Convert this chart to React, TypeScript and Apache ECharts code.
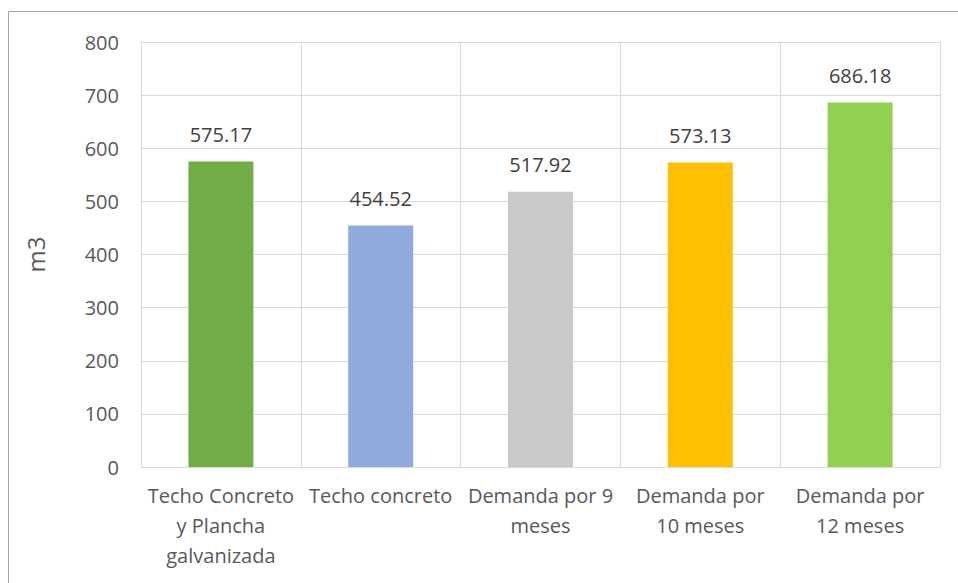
import React, { useEffect, useRef } from "react";
import * as echarts from "echarts";

const categories = [
  "Techo Concreto\ny Plancha\ngalvanizada",
  "Techo concreto",
  "Demanda por 9\nmeses",
  "Demanda por\n10 meses",
  "Demanda por\n12 meses",
];
const values = [575.17, 454.52, 517.92, 573.13, 686.18];
const barColors = ["#70AD47", "#8FAADC", "#C9C9C9", "#FFC000", "#92D050"];
const yTicks = { min: 0, max: 800, interval: 100 };

const FONT = "'Open Sans', 'Noto Sans', sans-serif";

export default function App() {
  const ref = useRef<HTMLDivElement>(null);
  useEffect(() => {
    if (!ref.current) return;
    const chart = echarts.init(ref.current, null, { renderer: "svg" });
    chart.setOption({
      animation: false,
      backgroundColor: "#ffffff",
      textStyle: { fontFamily: FONT },
      graphic: [
        {
          type: "rect",
          shape: { x: 8.5, y: 11.5, width: 970, height: 600 },
          style: { fill: "none", stroke: "#a6a6a6", lineWidth: 1 },
          silent: true,
          z: 0,
        },
      ],
      grid: { left: 141, right: 18, top: 42, bottom: 116, containLabel: false },
      xAxis: {
        type: "category",
        data: categories,
        axisLine: { show: true, lineStyle: { color: "#d9d9d9", width: 1 } },
        axisTick: { show: false },
        splitLine: { show: true, lineStyle: { color: "#d9d9d9", width: 1 } },
        axisLabel: {
          color: "#595959",
          fontSize: 20,
          fontFamily: FONT,
          lineHeight: 30,
          margin: 13,
          interval: 0,
        },
      },
      yAxis: {
        type: "value",
        min: yTicks.min,
        max: yTicks.max,
        interval: yTicks.interval,
        name: "m3",
        nameLocation: "middle",
        nameGap: 94,
        nameRotate: 90,
        nameTextStyle: { color: "#595959", fontSize: 24, fontFamily: FONT },
        axisLine: { show: true, lineStyle: { color: "#d9d9d9", width: 1 } },
        axisTick: { show: false },
        splitLine: { show: true, lineStyle: { color: "#d9d9d9", width: 1 } },
        axisLabel: { color: "#595959", fontSize: 20, fontFamily: FONT, margin: 22 },
      },
      series: [
        {
          type: "bar",
          barWidth: 65,
          data: values.map((v, i) => ({ value: v, itemStyle: { color: barColors[i] } })),
          label: {
            show: true,
            position: "top",
            distance: 17,
            color: "#404040",
            fontSize: 20,
            fontFamily: FONT,
            formatter: (p: any) => p.value.toFixed(2),
          },
        },
      ],
    });
    return () => chart.dispose();
  }, []);
  return (
    <div
      ref={ref}
      style={{ position: "absolute", left: 0, top: 0, width: 958, height: 583 }}
    />
  );
}
